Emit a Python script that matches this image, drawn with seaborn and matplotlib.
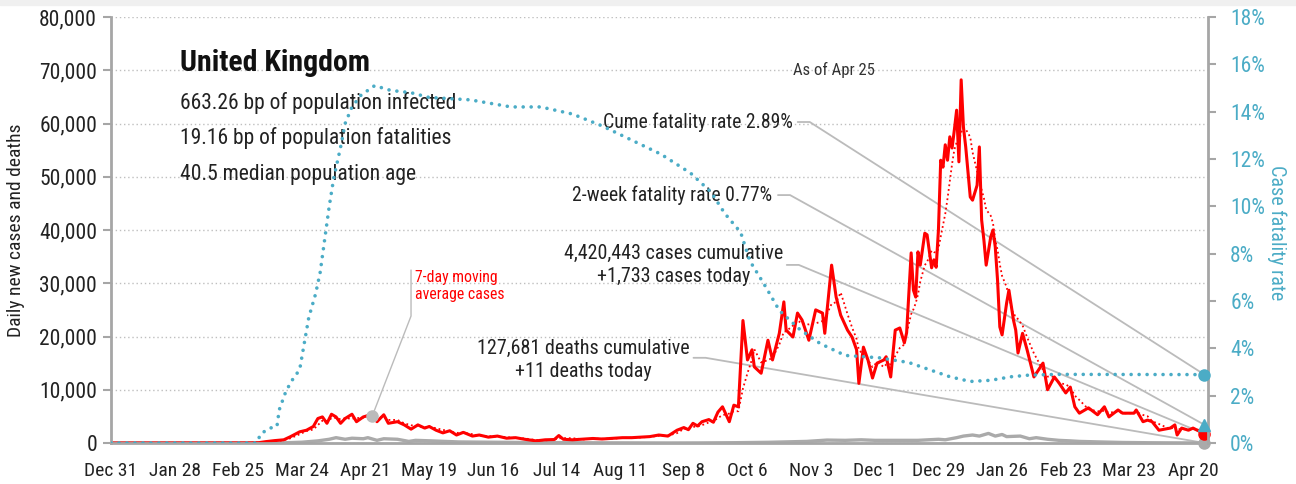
import matplotlib
matplotlib.use("Agg")
import matplotlib.pyplot as plt
import matplotlib.patches as mpatches
import seaborn as sns
import pandas as pd

# daily new cases
case_dates = ['2019-12-31', '2020-01-31', '2020-02-29', '2020-03-05', '2020-03-08', '2020-03-12',
              '2020-03-16', '2020-03-19', '2020-03-23', '2020-03-26', '2020-03-29', '2020-03-31',
              '2020-04-02', '2020-04-04', '2020-04-06', '2020-04-08', '2020-04-10', '2020-04-12',
              '2020-04-15', '2020-04-17', '2020-04-20', '2020-04-24', '2020-04-26', '2020-04-29',
              '2020-05-01', '2020-05-05', '2020-05-08', '2020-05-11', '2020-05-14', '2020-05-17',
              '2020-05-19', '2020-05-22', '2020-05-25', '2020-05-28', '2020-05-31', '2020-06-03',
              '2020-06-07', '2020-06-10', '2020-06-14', '2020-06-18', '2020-06-22', '2020-06-26',
              '2020-06-30', '2020-07-05', '2020-07-09', '2020-07-13', '2020-07-15', '2020-07-17',
              '2020-07-21', '2020-07-26', '2020-07-30', '2020-08-03', '2020-08-08', '2020-08-12',
              '2020-08-16', '2020-08-20', '2020-08-24', '2020-08-28', '2020-09-01', '2020-09-05',
              '2020-09-08', '2020-09-10', '2020-09-12', '2020-09-14', '2020-09-16', '2020-09-19',
              '2020-09-21', '2020-09-23', '2020-09-25', '2020-09-28', '2020-09-30', '2020-10-02',
              '2020-10-04', '2020-10-06', '2020-10-08', '2020-10-09', '2020-10-12', '2020-10-15',
              '2020-10-17', '2020-10-20', '2020-10-22', '2020-10-23', '2020-10-26', '2020-10-28',
              '2020-10-30', '2020-11-02', '2020-11-05', '2020-11-08', '2020-11-09', '2020-11-12',
              '2020-11-14', '2020-11-16', '2020-11-19', '2020-11-21', '2020-11-23', '2020-11-24',
              '2020-11-26', '2020-11-28', '2020-11-30', '2020-12-02', '2020-12-05', '2020-12-06',
              '2020-12-08', '2020-12-10', '2020-12-12', '2020-12-14', '2020-12-15', '2020-12-17',
              '2020-12-18', '2020-12-19', '2020-12-20', '2020-12-21', '2020-12-23', '2020-12-24',
              '2020-12-26', '2020-12-27', '2020-12-28', '2020-12-29', '2020-12-30', '2020-12-31',
              '2021-01-01', '2021-01-02', '2021-01-03', '2021-01-04', '2021-01-05', '2021-01-06',
              '2021-01-07', '2021-01-08', '2021-01-09', '2021-01-10', '2021-01-12', '2021-01-13',
              '2021-01-15', '2021-01-16', '2021-01-17', '2021-01-18', '2021-01-19', '2021-01-21',
              '2021-01-22', '2021-01-23', '2021-01-24', '2021-01-25', '2021-01-26', '2021-01-28',
              '2021-01-29', '2021-01-31', '2021-02-01', '2021-02-02', '2021-02-04', '2021-02-06',
              '2021-02-09', '2021-02-13', '2021-02-15', '2021-02-18', '2021-02-20', '2021-02-23',
              '2021-02-25', '2021-02-27', '2021-03-01', '2021-03-05', '2021-03-09', '2021-03-12',
              '2021-03-14', '2021-03-18', '2021-03-20', '2021-03-25', '2021-03-26', '2021-03-29',
              '2021-03-31', '2021-04-02', '2021-04-05', '2021-04-10', '2021-04-12', '2021-04-13',
              '2021-04-15', '2021-04-18', '2021-04-20', '2021-04-25']
case_values = [0, 0, 20, 60, 250, 450,
               600, 1200, 2100, 2400, 3100, 4600,
               4900, 3700, 5400, 4900, 3700, 4600,
               5400, 4000, 4900, 5400, 4000, 5300,
               3700, 4000, 3400, 2600, 3400, 2800,
               3100, 2400, 1900, 2300, 1500, 2000,
               1300, 1500, 1100, 1300, 900, 1000,
               700, 400, 600, 650, 1400, 700,
               600, 750, 850, 750, 900, 1000,
               1000, 1100, 1200, 1500, 1300, 2400,
               2900, 2500, 3700, 3200, 4000, 4400,
               3900, 5800, 6800, 4000, 7100, 6800,
               23000, 15600, 17500, 14300, 13100, 19300,
               15600, 20600, 26500, 21200, 19900, 24400,
               23100, 19300, 25000, 24400, 20600, 33400,
               27400, 24000, 21200, 19900, 17500, 11200,
               18000, 15600, 12200, 15000, 15600, 16200,
               12400, 21200, 21600, 18800, 20700, 35700,
               28700, 27400, 35900, 33400, 39400, 39100,
               32900, 34400, 33000, 40000, 53100, 51800,
               56000, 53100, 57500, 55400, 58800, 62500,
               52800, 68200, 59300, 55600, 46200, 45600,
               48400, 55600, 41900, 38100, 33400, 38700,
               40000, 36800, 30600, 21800, 20300, 26300,
               28700, 23100, 21200, 16900, 20600, 17500,
               12400, 15000, 10000, 12400, 11300, 9400,
               10500, 6800, 5600, 6600, 5300, 6800,
               4900, 6200, 5600, 5600, 6200, 4000,
               4300, 4000, 2400, 2800, 3400, 1500,
               2800, 2400, 2800, 1733]

# daily deaths
death_dates = ['2019-12-31', '2020-03-01', '2020-03-15', '2020-03-24', '2020-03-31', '2020-04-05',
               '2020-04-08', '2020-04-12', '2020-04-15', '2020-04-20', '2020-04-22', '2020-04-26',
               '2020-04-29', '2020-05-05', '2020-05-10', '2020-05-13', '2020-05-20', '2020-06-01',
               '2020-06-15', '2020-07-01', '2020-08-01', '2020-09-01', '2020-09-15', '2020-10-01',
               '2020-10-15', '2020-11-01', '2020-11-10', '2020-11-18', '2020-11-25', '2020-12-01',
               '2020-12-10', '2020-12-20', '2020-12-29', '2021-01-01', '2021-01-06', '2021-01-09',
               '2021-01-13', '2021-01-16', '2021-01-20', '2021-01-23', '2021-01-26', '2021-01-28',
               '2021-02-03', '2021-02-07', '2021-02-10', '2021-02-15', '2021-02-20', '2021-02-25',
               '2021-03-01', '2021-03-10', '2021-03-20', '2021-04-01', '2021-04-10', '2021-04-25']
death_values = [0, 0, 20, 150, 400, 700,
                1000, 700, 900, 800, 1000, 500,
                800, 700, 300, 500, 400, 200,
                150, 100, 40, 10, 20, 60,
                130, 300, 550, 500, 600, 500,
                500, 500, 700, 600, 1000, 1300,
                1500, 1300, 1800, 1300, 1600, 1200,
                1300, 800, 1000, 700, 500, 400,
                300, 200, 100, 50, 30, 11]

# cumulative case fatality rate, %
cfr_dates = ['2019-12-31', '2020-03-04', '2020-03-06', '2020-03-10', '2020-03-13', '2020-03-14',
             '2020-03-17', '2020-03-20', '2020-03-23', '2020-03-25', '2020-03-27', '2020-03-30',
             '2020-04-01', '2020-04-03', '2020-04-05', '2020-04-07', '2020-04-10', '2020-04-12',
             '2020-04-15', '2020-04-19', '2020-04-25', '2020-05-02', '2020-05-11', '2020-05-19',
             '2020-06-06', '2020-06-24', '2020-07-07', '2020-07-21', '2020-08-03', '2020-08-16',
             '2020-08-29', '2020-09-11', '2020-09-20', '2020-09-26', '2020-10-03', '2020-10-07',
             '2020-10-14', '2020-10-20', '2020-10-29', '2020-11-07', '2020-11-18', '2020-12-03',
             '2020-12-16', '2020-12-25', '2021-01-03', '2021-01-12', '2021-01-21', '2021-01-30',
             '2021-02-07', '2021-02-20', '2021-04-25']
cfr_values = [0, 0, 0.4, 0.63, 0.7, 1.4,
              2.2, 2.7, 3.1, 4.2, 5.3, 6.3,
              7.2, 8.6, 10.0, 11.2, 12.5, 13.5,
              14.2, 14.7, 15.1, 14.9, 14.8, 14.6,
              14.5, 14.2, 14.2, 13.9, 13.4, 12.8,
              12.2, 11.4, 10.6, 9.7, 8.9, 7.7,
              6.6, 5.6, 4.8, 4.2, 3.7, 3.6,
              3.4, 3.1, 2.8, 2.6, 2.65, 2.8,
              2.87, 2.9, 2.89]

two_week_cfr = 0.77
avg_label_date = '2020-04-24'

TEAL = '#4BACC6'
GREY = '#A6A6A6'

cases = pd.DataFrame({'date': pd.to_datetime(case_dates), 'cases': case_values})
cases['avg'] = cases.set_index('date')['cases'].rolling('7D').mean().values
deaths = pd.DataFrame({'date': pd.to_datetime(death_dates), 'deaths': death_values})
cfr = pd.DataFrame({'date': pd.to_datetime(cfr_dates), 'cfr': cfr_values})

sns.set_style('white')
plt.rcParams['font.family'] = ['Roboto Condensed', 'Roboto', 'DejaVu Sans']

fig = plt.figure(figsize=(12.96, 4.84), dpi=100)
fig.patches.append(mpatches.Rectangle((0, 0.99), 1, 0.01, transform=fig.transFigure,
                                      color='#F0F0F0', zorder=0))
ax = fig.add_axes([111/1296, 41/484, 1097/1296, 426/484])

sns.lineplot(data=deaths, x='date', y='deaths', color='#AAAAAA', lw=2.4, ax=ax)
sns.lineplot(data=cases, x='date', y='avg', color='red', lw=1.3,
             linestyle=(0, (1, 1.6)), ax=ax)
sns.lineplot(data=cases, x='date', y='cases', color='red', lw=2.2, ax=ax)

ax2 = ax.twinx()
sns.lineplot(data=cfr, x='date', y='cfr', color=TEAL, lw=2.6,
             linestyle=(0, (0.01, 2.2)), dash_capstyle='round', ax=ax2)

xmin, xmax = pd.Timestamp('2019-12-31'), pd.Timestamp('2021-04-26 14:00')
ax.set_xlim(xmin, xmax)
ax.set_ylim(0, 80000)
ax2.set_ylim(0, 18)

ticks = pd.date_range('2019-12-31', '2021-04-20', freq='28D')
ax.set_xticks(ticks)
ax.set_xticklabels([f"{t:%b} {t.day}" for t in ticks])
ax.set_yticks(range(0, 80001, 10000))
ax.set_yticklabels([f"{v:,}" for v in range(0, 80001, 10000)])
ax2.set_yticks(range(0, 19, 2))
ax2.set_yticklabels([f"{v}%" for v in range(0, 19, 2)])

ax.yaxis.grid(True, linestyle=(0, (1, 2)), color='#BFBFBF', lw=1)
ax.xaxis.grid(False)
ax.tick_params(axis='x', length=8, width=1.5, color=GREY, labelsize=14, pad=6, colors='#222222')
ax.tick_params(axis='y', length=6, width=1.5, color=GREY, labelsize=15.5, pad=4, labelcolor='#222222')
ax2.tick_params(axis='y', length=6, width=1.5, color=GREY, labelsize=15.5, pad=10, labelcolor=TEAL)
for a in (ax, ax2):
    a.spines['top'].set_visible(False)
    for s in ('left', 'right', 'bottom'):
        a.spines[s].set_color(GREY)
        a.spines[s].set_linewidth(2)
ax.spines['right'].set_visible(False)
ax2.spines['left'].set_visible(False)
ax2.spines['bottom'].set_visible(False)

ax.set_xlabel('')
ax.set_ylabel('Daily new cases and deaths', fontsize=14, color='#222222')
ax.yaxis.set_label_coords(-0.078, 0.5)
ax2.set_xlabel('')
ax2.set_ylabel('Case fatality rate', fontsize=14.5, color=TEAL, rotation=270)
ax2.yaxis.set_label_coords(1.072, 0.495)

# end-point markers
last = cases['date'].iloc[-1]
ax.plot(deaths['date'].iloc[-1], deaths['deaths'].iloc[-1], 'o', color='#AAAAAA', ms=8, clip_on=False, zorder=5)
ax.plot(last, cases['cases'].iloc[-1], 'o', color='red', ms=8, clip_on=False, zorder=5)
ax2.plot(cfr['date'].iloc[-1], cfr['cfr'].iloc[-1], 'o', color=TEAL, ms=8, clip_on=False, zorder=5)
ax2.plot(last, two_week_cfr, '^', color=TEAL, ms=8, clip_on=False, zorder=5)
avg_pt = cases.set_index('date')['avg'].asof(pd.Timestamp(avg_label_date))
ax.plot(pd.Timestamp(avg_label_date), avg_pt, 'o', color='#BBBBBB', ms=8, zorder=5)

# text block
ax.text(0.063, 0.892, 'United Kingdom', transform=ax.transAxes, fontsize=21.5,
        fontweight='bold', va='center', color='#111111')
for fy, s in [(0.798, '663.26 bp of population infected'),
              (0.716, '19.16 bp of population fatalities'),
              (0.631, '40.5 median population age')]:
    ax.text(0.063, fy, s, transform=ax.transAxes, fontsize=15.5, va='center', color='#222222')
ax.text(0.659, 0.876, 'As of Apr 25', transform=ax.transAxes, fontsize=12,
        ha='center', va='center', color='#333333')


def to_axes(axis, x, y):
    disp = axis.transData.transform((matplotlib.dates.date2num(x), y))
    return ax.transAxes.inverted().transform(disp)


def leader(fx, fy, axis, x, y):
    mx, my = to_axes(axis, x, y)
    ax.plot([fx, fx + 0.011, mx], [fy, fy, my], transform=ax.transAxes,
            color='#BBBBBB', lw=1.3, clip_on=False, zorder=1)


ax.text(0.6217, 0.7535, 'Cume fatality rate 2.89%', transform=ax.transAxes,
        fontsize=14.2, ha='right', va='center', color='#222222')
leader(0.626, 0.7535, ax2, cfr['date'].iloc[-1], cfr['cfr'].iloc[-1])

ax.text(0.6026, 0.582, '2-week fatality rate 0.77%', transform=ax.transAxes,
        fontsize=14.2, ha='right', va='center', color='#222222')
leader(0.608, 0.582, ax2, last, two_week_cfr)

ax.text(0.513, 0.418, '4,420,443 cases cumulative\n+1,733 cases today', transform=ax.transAxes,
        fontsize=14.4, ha='center', va='center', linespacing=1.3, color='#222222')
leader(0.616, 0.418, ax, last, cases['cases'].iloc[-1])

ax.text(0.431, 0.195, '127,681 deaths cumulative\n+11 deaths today', transform=ax.transAxes,
        fontsize=14.4, ha='center', va='center', linespacing=1.3, color='#222222')
leader(0.531, 0.2, ax, deaths['date'].iloc[-1], deaths['deaths'].iloc[-1])

# 7-day average callout
ax.text(0.277, 0.406, '7-day moving\naverage cases', transform=ax.transAxes,
        fontsize=11.3, ha='left', va='top', color='red', linespacing=1.2)
px, py = to_axes(ax, pd.Timestamp(avg_label_date), avg_pt)
ax.plot([0.2735, 0.2735, px], [0.406, 0.298, py], transform=ax.transAxes,
        color='#BBBBBB', lw=1, zorder=1)

fig.savefig('out.png', dpi=100)
